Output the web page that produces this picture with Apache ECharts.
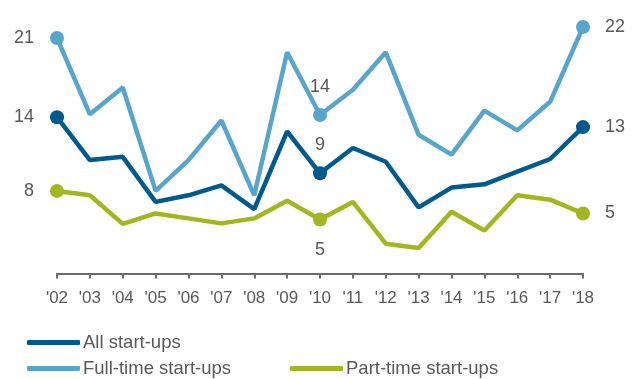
<!DOCTYPE html>
<html>
<head>
<meta charset="utf-8">
<script src="https://cdn.jsdelivr.net/npm/echarts@6/dist/echarts.min.js"></script>
<style>
  html, body { margin: 0; padding: 0; background: #fff; }
  #chart { width: 638px; height: 379px; }
</style>
</head>
<body>
<div id="chart"></div>
<script>
// years on the x axis
const years = ["'02", "'03", "'04", "'05", "'06", "'07", "'08", "'09", "'10",
  "'11", "'12", "'13", "'14", "'15", "'16", "'17", "'18"]

// start-ups
const allStartups = [14.2, 10.3, 10.6, 6.5, 7.1, 8.0, 5.85, 12.9, 9.1, 11.4, 10.15, 6.0, 7.8, 8.1, 9.25, 10.4, 13.3]
const fullTime = [21.4, 14.46, 16.9, 7.5, 10.3, 13.9, 7.1, 20.1, 14.4, 16.7, 20.1, 12.6, 10.8, 14.8, 13.0, 15.6, 22.4]
const partTime = [7.5, 7.1, 4.5, 5.45, 5.0, 4.55, 5.0, 6.6, 4.9, 6.5, 2.7, 2.3, 5.6, 3.9, 7.1, 6.7, 5.45]

// points that get a dot and a value label
const markedIdx = [0, 8, 16]

const textColor = '#595959'
const fontFamily = '"Liberation Sans", Arial, sans-serif'

// build data items, dot + label only on the marked years
const buildData = (values, midPos) => values.map((v, i) => {
   if (!markedIdx.includes(i)) return { value: v, symbolSize: 0, label: { show: false } }
   let position = midPos
   let distance = midPos === 'top' ? 12 : 15
   if (i === 0) { position = 'left'; distance = 16 }
   if (i === 16) { position = 'right'; distance = 15 }
   return {
      value: v,
      symbolSize: 14,
      label: { show: true, position, distance }
   }
})

const makeSeries = (name, values, color, midPos, z) => ({
   name,
   type: 'line',
   z,
   data: buildData(values, midPos),
   symbol: 'circle',
   showSymbol: true,
   lineStyle: { width: 4.5, color },
   itemStyle: { color },
   label: {
      color: textColor,
      fontSize: 18,
      fontFamily,
      formatter: p => Math.round(p.value)
   },
   emphasis: { disabled: true },
   animation: false
})

const legendCommon = {
   icon: 'roundRect',
   itemWidth: 53,
   itemHeight: 5,
   itemGap: 4,
   textStyle: { color: textColor, fontSize: 18.5, fontFamily, padding: [0, 0, 0, -2] },
   selectedMode: false
}

const chart = echarts.init(document.getElementById('chart'))

const option = {
   backgroundColor: '#fff',
   grid: { left: 57, right: 55, top: 9.4, bottom: 101.2 },
   xAxis: {
      type: 'category',
      data: years,
      boundaryGap: false,
      axisLine: { lineStyle: { color: '#6b6b6b', width: 2 } },
      axisTick: { show: true, length: 5, lineStyle: { color: '#6b6b6b', width: 2 } },
      axisLabel: { color: textColor, fontSize: 17, fontFamily, margin: 12 }
   },
   yAxis: {
      type: 'value',
      min: -0.4,
      max: 24,
      show: false
   },
   legend: [
      Object.assign({ data: ['All start-ups'], left: 22, top: 328 }, legendCommon),
      Object.assign({ data: ['Full-time start-ups'], left: 22, top: 354 }, legendCommon),
      Object.assign({ data: ['Part-time start-ups'], left: 285, top: 354 }, legendCommon)
   ],
   series: [
      makeSeries('Full-time start-ups', fullTime, '#58a5cb', 'top', 2),
      makeSeries('All start-ups', allStartups, '#005a8c', 'top', 3),
      makeSeries('Part-time start-ups', partTime, '#a3b61f', 'bottom', 4)
   ]
}

chart.setOption(option)
</script>
</body>
</html>
